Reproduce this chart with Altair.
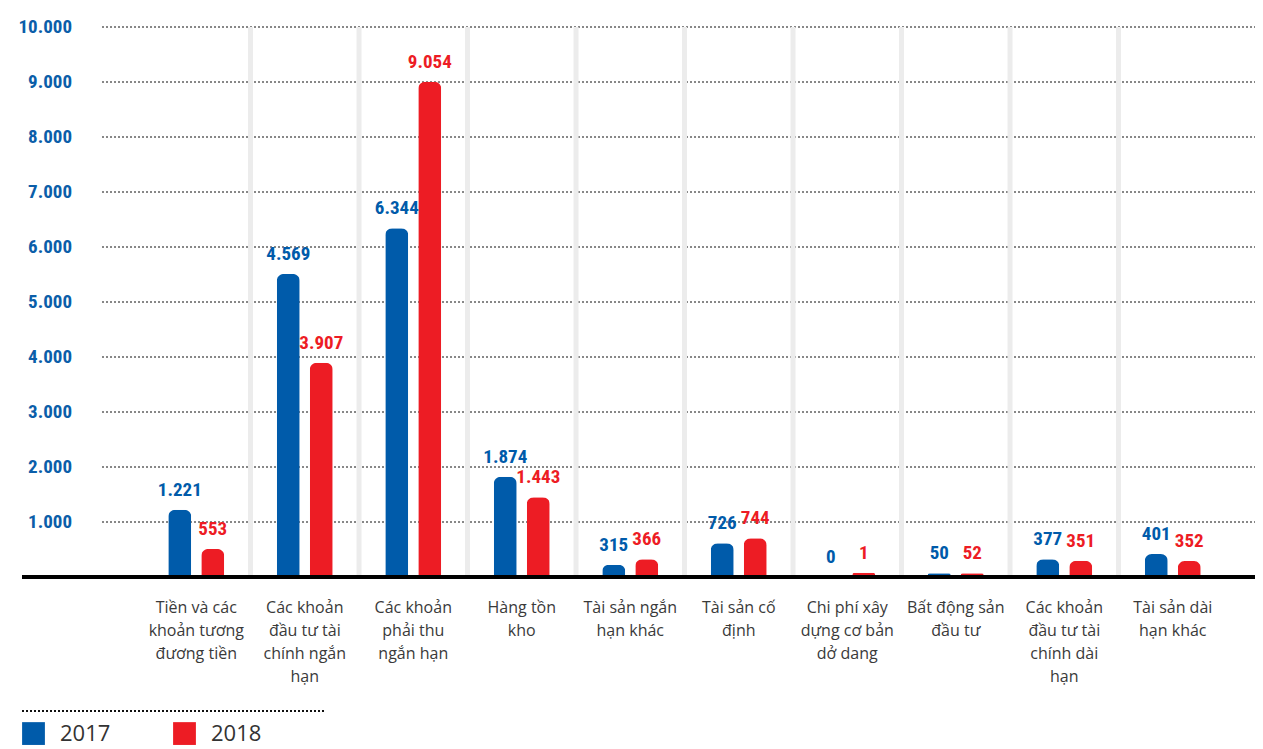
import altair as alt
import pandas as pd

# ---- data ----
categories = [
    "Tiền và các\nkhoản tương\nđương tiền",
    "Các khoản\nđầu tư tài\nchính ngắn\nhạn",
    "Các khoản\nphải thu\nngắn hạn",
    "Hàng tồn\nkho",
    "Tài sản ngắn\nhạn khác",
    "Tài sản cố\nđịnh",
    "Chi phí xây\ndựng cơ bản\ndở dang",
    "Bất động sản\nđầu tư",
    "Các khoản\nđầu tư tài\nchính dài\nhạn",
    "Tài sản dài\nhạn khác",
]
years = ["2017", "2018"]
# bar heights as drawn in the picture
bars_2017 = [1221, 5510, 6340, 1824, 218, 612, 0, 70, 321, 418]
bars_2018 = [510, 3897, 9005, 1449, 321, 703, 78, 67, 297, 291]
# value labels printed above the bars
labels_2017 = ["1.221", "4.569", "6.344", "1.874", "315", "726", "0", "50", "377", "401"]
labels_2018 = ["553", "3.907", "9.054", "1.443", "366", "744", "1", "52", "351", "352"]
tick_values = [1000, 2000, 3000, 4000, 5000, 6000, 7000, 8000, 9000, 10000]
tick_labels = ["1.000", "2.000", "3.000", "4.000", "5.000", "6.000", "7.000", "8.000", "9.000", "10.000"]
colors = ["#005baa", "#ed1c24"]

rows = []
for i, c in enumerate(categories):
    rows.append({"cat": c, "year": "2017", "v": bars_2017[i], "lab": labels_2017[i]})
    rows.append({"cat": c, "year": "2018", "v": bars_2018[i], "lab": labels_2018[i]})
df = pd.DataFrame(rows)
df_cat = pd.DataFrame({"cat": categories, "zero": [0] * len(categories)})
df_sep = pd.DataFrame({"cat": categories[1:], "lo": [0] * 9, "hi": [10000] * 9})
df_ticks = pd.DataFrame({"v": tick_values, "t": tick_labels})

W, H = 1233, 550
NUM_FONT = "Roboto Condensed, Liberation Sans Narrow, Roboto, sans-serif"
TXT_FONT = "Open Sans, Noto Sans, sans-serif"
NUM_SIZE = 19

xscale = alt.Scale(domain=categories, paddingInner=0, paddingOuter=0.682, align=0.811)
yscale = alt.Scale(domain=[0, 10000], nice=False)
cscale = alt.Scale(domain=years, range=colors)
xoff_scale = alt.Scale(domain=years, paddingInner=0, paddingOuter=0.644)

X = alt.X("cat:N", scale=xscale, axis=None, sort=categories)
Y = alt.Y("v:Q", scale=yscale, axis=None)

grid = alt.Chart(df_ticks).mark_rule(color="#111", strokeWidth=1, strokeDash=[2, 2]).encode(
    x=alt.value(80), x2=alt.value(W), y=Y
)
ylabels = alt.Chart(df_ticks).mark_text(
    align="right", baseline="middle", font=NUM_FONT, fontWeight="bold", fontSize=NUM_SIZE, color="#0b5ea9"
).encode(x=alt.value(50), y=Y, text="t:N")

seps = alt.Chart(df_sep).mark_rule(color="#ececec", strokeWidth=5).encode(
    x=alt.X("cat:N", scale=xscale, axis=None, sort=categories, bandPosition=0),
    y=alt.Y("lo:Q", scale=yscale, axis=None), y2="hi:Q",
)

bars = alt.Chart(df).mark_bar(width=23, cornerRadiusTopLeft=7, cornerRadiusTopRight=7).encode(
    x=X,
    xOffset=alt.XOffset("year:N", scale=xoff_scale),
    y=Y,
    color=alt.Color(
        "year:N", scale=cscale,
        legend=alt.Legend(
            title=None, orient="none", legendX=0, legendY=695, direction="horizontal",
            symbolType="square", symbolSize=520, symbolStrokeWidth=0, symbolOpacity=1,
            labelFont=TXT_FONT, labelFontSize=22, labelColor="#333333", labelOffset=15,
            columnPadding=62, padding=0,
        ),
    ),
)

vlabels = alt.Chart(df).mark_text(
    baseline="bottom", dy=-10, font=NUM_FONT, fontWeight="bold", fontSize=NUM_SIZE
).encode(
    x=X,
    xOffset=alt.XOffset("year:N", scale=xoff_scale),
    y=Y,
    text="lab:N",
    color=alt.Color("year:N", scale=cscale, legend=None),
)

baseline = alt.Chart(df_cat).mark_rule(color="#000", strokeWidth=3).encode(
    y=alt.Y("zero:Q", scale=yscale, axis=None)
)

catlabels = alt.Chart(df_cat).mark_text(
    baseline="top", align="center", lineBreak="\n", lineHeight=23,
    font=TXT_FONT, fontSize=16, color="#3a3a3a"
).encode(x=X, y=alt.value(573), text="cat:N")

legend_rule = alt.Chart(df_cat).mark_rule(color="#111", strokeWidth=1, strokeDash=[2, 2]).encode(
    x=alt.value(0), x2=alt.value(303), y=alt.value(684)
)

chart = alt.layer(grid, seps, bars, vlabels, baseline, ylabels, catlabels, legend_rule).properties(
    width=W, height=H,
    autosize=alt.AutoSizeParams(type="none"),
    padding={"left": 14, "top": 19, "right": 0, "bottom": 170},
    background="white",
).configure_view(stroke=None)

chart.save("out.html", embed_options={"renderer": "svg", "actions": False})
